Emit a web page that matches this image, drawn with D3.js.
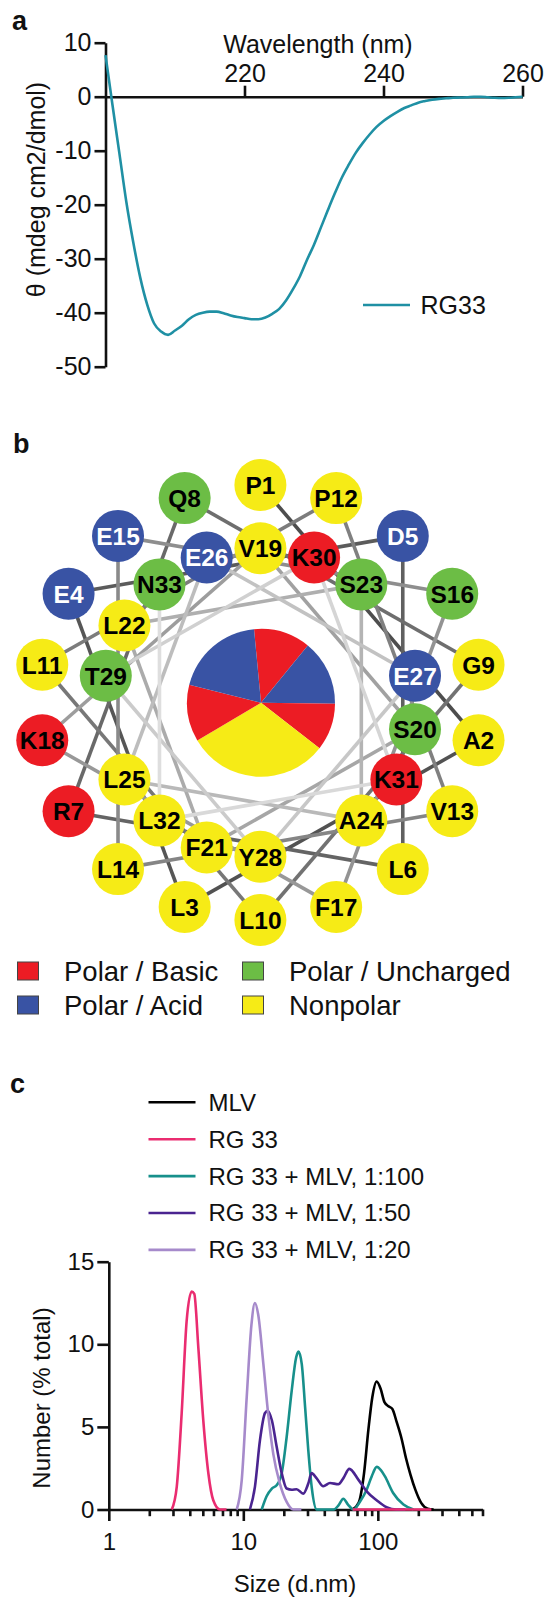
<!DOCTYPE html>
<html>
<head>
<meta charset="utf-8">
<script src="https://cdn.jsdelivr.net/npm/d3@7"></script>
<style>
  body { margin: 0; background: #fff; }
  svg { display: block; }
  text { font-family: "Liberation Sans", Arial, Helvetica, sans-serif; fill: #111; }
</style>
</head>
<body>
<svg id="fig" width="545" height="1598"></svg>
<script>
// ---------- a: circular dichroism spectrum ----------
const wavelength = d3.range(200, 261);
const ellipticity = [
  7.7, -1.5, -10.5, -19.5, -27, -33.5, -38.5, -42, -43.5, -44.1,
  -43.3, -42.4, -41.2, -40.4, -40.0, -39.8, -39.8, -40.1, -40.5, -40.8,
  -41.0, -41.2, -41.2, -40.9, -40.2, -39.3, -37.7, -35.6, -33.2, -30.2,
  -27.4, -24.2, -21.0, -17.9, -15.0, -12.6, -10.4, -8.6, -7.0, -5.6,
  -4.5, -3.6, -2.8, -2.1, -1.6, -1.1, -0.8, -0.55, -0.4, -0.3,
  -0.2, -0.15, -0.1, 0, 0, -0.1, -0.2, -0.25, -0.2, -0.1, 0
];
const cdTicksX = [220, 240, 260];
const cdTicksY = [10, 0, -10, -20, -30, -40, -50];

// ---------- b: helical wheel ----------
const residues = ["P1","A2","L3","E4","D5","L6","R7","Q8","G9","L10","L11","P12","V13","L14","E15","S16","F17","K18",
                  "V19","S20","F21","L22","S23","A24","L25","E26","E27","Y28","T29","K30","K31","L32","N33"];
const residueClass = ["nonpolar","nonpolar","nonpolar","acid","acid","nonpolar","basic","uncharged","nonpolar","nonpolar",
                      "nonpolar","nonpolar","nonpolar","nonpolar","acid","uncharged","nonpolar","basic","nonpolar","uncharged",
                      "nonpolar","nonpolar","uncharged","nonpolar","nonpolar","acid","acid","nonpolar","uncharged","basic",
                      "basic","nonpolar","uncharged"];
const classKeys = ["basic","acid","uncharged","nonpolar"];
const classLabels = ["Polar / Basic","Polar / Acid","Polar / Uncharged","Nonpolar"];
const classColors = ["#ec1c24","#3953a4","#6cbd45","#f6eb16"];
const pieValues = [12.4, 14.3, 10.3, 31.0, 12.4, 19.6];
const pieClasses = ["basic","acid","basic","nonpolar","basic","acid"];

// ---------- c: DLS size distributions ----------
const mlvSize   = [65, 72, 79, 85, 91, 98, 105, 112, 120, 128, 138, 150, 162, 175, 190, 210, 235, 260];
const mlvNumber = [0, 0.4, 2.2, 4.8, 6.8, 7.75, 7.3, 6.5, 6.25, 6.1, 5.3, 4.3, 3.1, 2.1, 1.2, 0.4, 0.05, 0];
const rg33Size   = [2.94, 3.2, 3.48, 3.79, 4.13, 4.32, 4.63, 5.04, 5.5, 5.98, 6.71, 7.5, 30, 65, 120, 250];
const rg33Number = [0, 1.37, 5.8, 11.4, 13.2, 13.05, 9.8, 5.4, 2.18, 0.56, 0, 0, null, 0, 0, 0];
const mix100Size   = [13.7, 14.9, 16.3, 17.7, 19.3, 21, 22.9, 24.7, 25.7, 27.2, 28.8, 30.4, 32.3, 35.1, 47, 51, 55.4, 60, 65.8, 74, 82.6, 90, 98.2, 105, 113, 130, 155, 184];
const mix100Number = [0, 0.8, 1.27, 1.47, 2.2, 4.39, 7.2, 9.2, 9.56, 8.8, 6.2, 3.6, 1.3, 0, 0, 0.25, 0.65, 0.3, 0, 0.5, 1.2, 2.0, 2.58, 2.4, 2.0, 1.0, 0.3, 0];
const mix50Size   = [11.2, 12.2, 13.3, 14.5, 15.2, 16.3, 17.7, 19.3, 21, 22.9, 24.9, 27.9, 30.4, 32.2, 35, 39.3, 44.1, 50.9, 55.5, 61.4, 71.6, 82.6, 98, 116, 138, 160];
const mix50Number = [0, 1.37, 4.2, 5.84, 5.98, 5.4, 3.8, 2.2, 1.27, 1.2, 1.23, 0.96, 1.57, 2.2, 1.9, 1.41, 1.6, 1.53, 1.9, 2.46, 1.81, 1.1, 0.56, 0.14, 0, 0];
const mix20Size   = [8.93, 9.73, 10.6, 11.5, 12.2, 12.9, 14.1, 15.3, 16.7, 18.7, 21, 23.5, 27];
const mix20Number = [0, 1.77, 6.8, 11.2, 12.5, 11.8, 8.8, 5.8, 3.37, 1.57, 0.46, 0, 0];
const dlsLabels = ["MLV", "RG 33", "RG 33 + MLV, 1:100", "RG 33 + MLV, 1:50", "RG 33 + MLV, 1:20"];
const dlsColors = ["#000000", "#ea2c70", "#17908b", "#4a2490", "#a68acb"];
const dlsTicksY = [0, 5, 10, 15];
const dlsMajorX = [1, 10, 100];

const svg = d3.select("#fig");
const FONT = '"Liberation Sans", Arial, Helvetica, sans-serif';

function styleAxis(g, fontSize) {
  g.attr("font-family", FONT).attr("font-size", fontSize);
  g.selectAll(".domain").attr("stroke", "#111").attr("stroke-width", 2.6);
  g.selectAll(".tick line").attr("stroke", "#111").attr("stroke-width", 2.6);
  g.selectAll(".tick text").attr("fill", "#111");
}

// ======================= panel a =======================
{
  const x = d3.scaleLinear().domain([200, 260]).range([105.5, 522.5]);
  const y = d3.scaleLinear().domain([-50, 10]).range([366.7, 42.7]);
  const g = svg.append("g");

  g.append("text").attr("x", 12).attr("y", 30).attr("font-size", 27).attr("font-weight", "bold").text("a");

  const yAxis = g.append("g").attr("transform", `translate(${x(200)},0)`)
    .call(d3.axisLeft(y).tickValues(cdTicksY).tickSize(11).tickSizeOuter(0).tickPadding(3).tickFormat(d => String(d)));
  styleAxis(yAxis, 25);

  const xAxis = g.append("g").attr("transform", `translate(0,${y(0)})`)
    .call(d3.axisTop(x).tickValues(cdTicksX).tickSize(11).tickSizeOuter(0).tickPadding(4).tickFormat(d => String(d)));
  styleAxis(xAxis, 25);

  g.append("text").attr("x", 318).attr("y", 52.5).attr("text-anchor", "middle").attr("font-size", 25)
    .text("Wavelength (nm)");
  g.append("text").attr("transform", "translate(36.5,189.5) rotate(-90)").attr("text-anchor", "middle")
    .attr("dy", "0.35em").attr("font-size", 25).text("θ (mdeg cm2/dmol)");

  const cdColor = "#1f90a4";
  g.append("path").datum(d3.zip(wavelength, ellipticity))
    .attr("fill", "none").attr("stroke", cdColor).attr("stroke-width", 2.6).attr("stroke-linejoin", "round")
    .attr("d", d3.line().x(d => x(d[0])).y(d => y(d[1])).curve(d3.curveMonotoneX));

  g.append("line").attr("x1", 363).attr("x2", 410).attr("y1", 305).attr("y2", 305)
    .attr("stroke", cdColor).attr("stroke-width", 2.6);
  g.append("text").attr("x", 420.5).attr("y", 305).attr("dy", "0.35em").attr("font-size", 25).text("RG33");
}

// ======================= panel b =======================
{
  const g = svg.append("g");
  g.append("text").attr("x", 13).attr("y", 453).attr("font-size", 27).attr("font-weight", "bold").text("b");

  const cx = 260.4, cy = 702.5;
  const color = d3.scaleOrdinal().domain(classKeys).range(classColors);
  // each residue advances 100 degrees around the helix axis
  const angle = d3.scaleLinear().domain([1, 2]).range([0, 100 * Math.PI / 180]);
  const ringRx = d3.scaleOrdinal().domain(["outer", "inner"]).range([221.5, 157]);
  const ringRy = d3.scaleOrdinal().domain(["outer", "inner"]).range([217.5, 154.2]);

  const nodes = residues.map((name, i) => {
    const n = i + 1;
    const ring = n <= 18 ? "outer" : "inner";
    const a = angle(n);
    return { name, cls: residueClass[i], x: cx + ringRx(ring) * Math.sin(a), y: cy - ringRy(ring) * Math.cos(a) };
  });

  // central pie
  const pie = d3.pie().sort(null).value(d => d)
    .startAngle(-5.4 * Math.PI / 180).endAngle(2 * Math.PI - 5.4 * Math.PI / 180);
  const arc = d3.arc().innerRadius(0).outerRadius(74);
  g.append("g").attr("transform", "translate(261,702.8)")
    .selectAll("path").data(pie(pieValues)).join("path")
    .attr("d", arc).attr("fill", (d, i) => color(pieClasses[i]));

  // backbone connections, darker near the N-terminus
  const shade = d3.scaleLinear().domain([0, nodes.length - 2]).range(["#4d4d4d", "#dedede"]);
  const links = d3.range(nodes.length - 1).map(i => ({ a: nodes[i], b: nodes[i + 1], i }));
  g.append("g").selectAll("line").data(links).join("line")
    .attr("x1", d => d.a.x).attr("y1", d => d.a.y).attr("x2", d => d.b.x).attr("y2", d => d.b.y)
    .attr("stroke", d => shade(d.i)).attr("stroke-width", 3.6);

  const node = g.append("g").selectAll("g").data(nodes).join("g")
    .attr("transform", d => `translate(${d.x},${d.y})`);
  node.append("circle").attr("r", 26).attr("fill", d => color(d.cls));
  node.append("text").attr("text-anchor", "middle").attr("dy", "0.36em")
    .attr("font-size", 24.5).attr("font-weight", "bold")
    .style("fill", d => d.cls === "acid" ? "#fff" : "#000")
    .text(d => d.name);

  // legend: two columns, basic/uncharged on top, acid/nonpolar below
  const legendOrder = ["basic", "uncharged", "acid", "nonpolar"];
  const leg = g.append("g").selectAll("g").data(legendOrder).join("g")
    .attr("transform", (d, i) => `translate(${i % 2 === 0 ? 17.5 : 242.5},${i < 2 ? 971 : 1005})`);
  leg.append("rect").attr("x", 0).attr("y", -9).attr("width", 21).attr("height", 18)
    .attr("fill", d => color(d)).attr("stroke", "#444").attr("stroke-width", 1);
  leg.append("text").attr("x", 46.5).attr("dy", "0.36em").attr("font-size", 27.5)
    .text(d => classLabels[classKeys.indexOf(d)]);
}

// ======================= panel c =======================
{
  const g = svg.append("g");
  g.append("text").attr("x", 10).attr("y", 1093).attr("font-size", 27).attr("font-weight", "bold").text("c");

  const x = d3.scaleLog().domain([1, 600]).range([108.8, 482.5]);
  const y = d3.scaleLinear().domain([0, 15]).range([1509.5, 1261.7]);

  // legend
  const legend = g.append("g").selectAll("g").data(dlsLabels).join("g")
    .attr("transform", (d, i) => `translate(0,${1102.3 + i * 36.9})`);
  legend.append("line").attr("x1", 148.5).attr("x2", 195.5)
    .attr("stroke", (d, i) => dlsColors[i]).attr("stroke-width", 2.6);
  legend.append("text").attr("x", 208.5).attr("dy", "0.35em").attr("font-size", 24).text(d => d);

  // axes
  const minorTicks = [];
  [1, 10, 100].forEach(dec => d3.range(2, 10).forEach(k => { if (dec * k <= 600) minorTicks.push(dec * k); }));
  const xMinor = g.append("g").attr("transform", `translate(0,${y(0)})`)
    .call(d3.axisBottom(x).tickValues(minorTicks).tickSize(6.7).tickSizeOuter(0).tickFormat(""));
  styleAxis(xMinor, 24);
  const xMajor = g.append("g").attr("transform", `translate(0,${y(0)})`)
    .call(d3.axisBottom(x).tickValues(dlsMajorX).tickSize(11.5).tickSizeOuter(0).tickPadding(12).tickFormat(d => String(d)));
  styleAxis(xMajor, 24);
  xMajor.select(".domain").remove();

  const yAxis = g.append("g").attr("transform", `translate(${x(1)},0)`)
    .call(d3.axisLeft(y).tickValues(dlsTicksY).tickSize(11.5).tickSizeOuter(0).tickPadding(3).tickFormat(d => String(d)));
  styleAxis(yAxis, 24);

  g.append("text").attr("x", 295).attr("y", 1592).attr("text-anchor", "middle").attr("font-size", 24).text("Size (d.nm)");
  g.append("text").attr("transform", "translate(41.5,1398) rotate(-90)").attr("text-anchor", "middle")
    .attr("dy", "0.35em").attr("font-size", 24).text("Number (% total)");

  // curves
  const series = [
    { sizes: mlvSize, values: mlvNumber, color: dlsColors[0] },
    { sizes: mix100Size, values: mix100Number, color: dlsColors[2] },
    { sizes: mix50Size, values: mix50Number, color: dlsColors[3] },
    { sizes: mix20Size, values: mix20Number, color: dlsColors[4] },
    { sizes: rg33Size, values: rg33Number, color: dlsColors[1] }
  ];
  const line = d3.line().defined(d => d[1] != null)
    .x(d => x(d[0])).y(d => y(d[1])).curve(d3.curveMonotoneX);
  g.append("g").selectAll("path").data(series).join("path")
    .attr("fill", "none").attr("stroke", d => d.color).attr("stroke-width", 2.6).attr("stroke-linejoin", "round")
    .attr("d", d => line(d3.zip(d.sizes, d.values)));
}
</script>
</body>
</html>
